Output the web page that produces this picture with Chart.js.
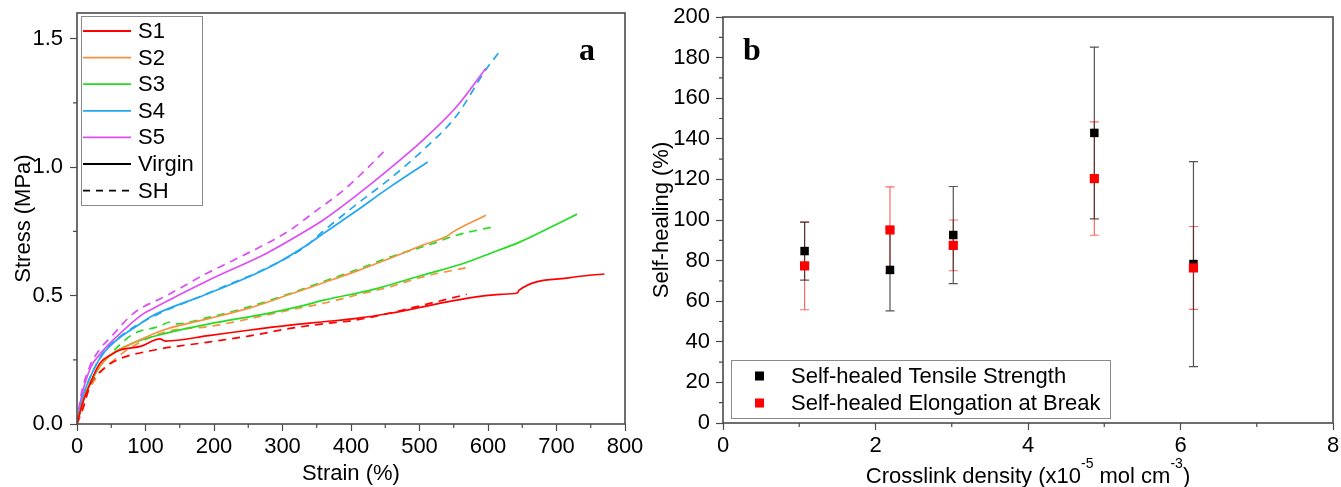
<!DOCTYPE html>
<html>
<head>
<meta charset="utf-8">
<script src="https://cdn.jsdelivr.net/npm/chart.js@4.4.1/dist/chart.umd.min.js"></script>
<style>
  html, body { margin: 0; padding: 0; background: #fff; }
  body { width: 1341px; height: 487px; position: relative; overflow: hidden; }
  .panel { position: absolute; top: 0; height: 487px; }
  #panelA { left: 0; width: 645px; }
  #panelB { left: 645px; width: 696px; }
</style>
</head>
<body>
<div class="panel" id="panelA"><canvas id="stressChart" width="645" height="487"></canvas></div>
<div class="panel" id="panelB"><canvas id="healChart" width="696" height="487"></canvas></div>
<script>
// Stress-strain curves, points are [strain %, stress MPa]
const s1Virgin = [[0,0],[8,0.08],[18,0.15],[33,0.235],[50,0.27],[63,0.288],[94,0.303],[121,0.331],[129,0.323],[192,0.344],[250,0.365],[311,0.385],[360,0.398],[408,0.411],[457,0.431],[505,0.456],[554,0.482],[618,0.505],[643,0.51],[645,0.52],[715,0.568],[745,0.578],[770,0.584]];
const s1SH = [[0,0],[10,0.07],[19,0.15],[38,0.214],[58,0.249],[107,0.285],[192,0.319],[250,0.342],[311,0.372],[360,0.39],[408,0.405],[457,0.432],[505,0.463],[569,0.505]];
const s2Virgin = [[0,0],[10,0.1],[25,0.19],[45,0.26],[70,0.3],[102,0.34],[131,0.37],[192,0.41],[250,0.45],[311,0.505],[360,0.55],[408,0.595],[457,0.645],[505,0.697],[540,0.731],[549,0.748],[597,0.813]];
const s2SH = [[0,0],[12,0.1],[28,0.18],[50,0.24],[80,0.3],[131,0.36],[192,0.379],[229,0.397],[311,0.444],[360,0.47],[408,0.502],[457,0.534],[505,0.573],[571,0.61]];
const s3Virgin = [[0,0],[10,0.1],[20,0.16],[33,0.223],[50,0.27],[82,0.315],[131,0.354],[192,0.389],[277,0.43],[333,0.463],[360,0.482],[433,0.524],[505,0.58],[564,0.625],[603,0.664],[647,0.709],[690,0.764],[730,0.817]];
const s3SH = [[0,0],[10,0.1],[25,0.19],[45,0.26],[82,0.35],[120,0.38],[136,0.397],[145,0.39],[192,0.415],[250,0.455],[311,0.508],[360,0.555],[408,0.6],[457,0.65],[520,0.703],[554,0.735],[608,0.768]];
const s4Virgin = [[0,0],[8,0.1],[24,0.21],[40,0.28],[58,0.327],[94,0.393],[107,0.417],[192,0.508],[277,0.605],[333,0.692],[360,0.742],[408,0.83],[457,0.923],[512,1.02]];
const s4SH = [[0,0],[8,0.1],[24,0.21],[40,0.285],[58,0.33],[94,0.395],[192,0.51],[277,0.607],[333,0.69],[360,0.752],[408,0.855],[457,0.955],[505,1.066],[554,1.2],[597,1.38],[615,1.443]];
const s5Virgin = [[0,0],[6,0.1],[20,0.22],[33,0.27],[58,0.34],[94,0.424],[107,0.444],[192,0.56],[277,0.665],[333,0.75],[360,0.795],[408,0.89],[457,0.995],[505,1.105],[554,1.235],[597,1.385]];
const s5SH = [[0,0],[5,0.1],[18,0.22],[33,0.29],[50,0.34],[82,0.43],[131,0.5],[192,0.59],[229,0.638],[311,0.755],[347,0.826],[389,0.91],[433,1.02],[453,1.075]];

const seriesNames = ['S1', 'S2', 'S3', 'S4', 'S5'];
const seriesColors = ['#ff0000', '#f7913f', '#22dd22', '#22a7f0', '#dc4ef5'];
const virginCurves = [s1Virgin, s2Virgin, s3Virgin, s4Virgin, s5Virgin];
const healedCurves = [s1SH, s2SH, s3SH, s4SH, s5SH];

// Self-healing efficiency against crosslink density (mean and SD, %)
const crosslinkDensity = [1.07, 2.19, 3.02, 4.87, 6.17];
const tensileHealing = [84.7, 75.4, 92.6, 142.9, 78.3];
const tensileSD = [14.3, 20.2, 23.9, 42.3, 50.5];
const elongationHealing = [77.4, 95.1, 87.5, 120.4, 76.4];
const elongationSD = [21.6, 21.2, 12.5, 27.9, 20.4];

const FONT = "'Liberation Sans', Arial, sans-serif";
const AXIS_COLOR = '#4a4a4a';
Chart.defaults.font.family = FONT;
Chart.defaults.font.size = 22;
Chart.defaults.color = '#000';

// closed box around the plot area
const frame = {
  id: 'frame',
  afterDraw(chart) {
    const {ctx, chartArea: a} = chart;
    ctx.save();
    ctx.strokeStyle = AXIS_COLOR;
    ctx.lineWidth = 1.6;
    ctx.strokeRect(a.left, a.top, a.right - a.left, a.bottom - a.top);
    ctx.restore();
  }
};

// short unlabelled ticks halfway between the labelled ones
const minorTicks = {
  id: 'minorTicks',
  afterDraw(chart, args, opts) {
    const {ctx, chartArea: a, scales: {x, y}} = chart;
    ctx.save();
    ctx.strokeStyle = AXIS_COLOR;
    ctx.lineWidth = 1.2;
    ctx.beginPath();
    for (let v = opts.xStep / 2; v < x.max; v += opts.xStep) {
      const px = x.getPixelForValue(v);
      ctx.moveTo(px, a.bottom);
      ctx.lineTo(px, a.bottom + 4);
    }
    for (let v = opts.yStep / 2; v < y.max; v += opts.yStep) {
      const py = y.getPixelForValue(v);
      ctx.moveTo(a.left, py);
      ctx.lineTo(a.left - 4, py);
    }
    ctx.stroke();
    ctx.restore();
  }
};

function panelLetter(text, dx, dy, fromRight) {
  return {
    id: 'panelLetter',
    afterDraw(chart) {
      const {ctx, chartArea: a} = chart;
      ctx.save();
      ctx.font = "bold 32px 'Liberation Serif', 'Times New Roman', serif";
      ctx.fillStyle = '#000';
      ctx.textAlign = 'center';
      ctx.textBaseline = 'alphabetic';
      ctx.fillText(text, fromRight ? a.right - dx : a.left + dx, a.top + dy);
      ctx.restore();
    }
  };
}

// legend: one coloured line per sample, then the line styles
const curveLegend = {
  id: 'curveLegend',
  afterDraw(chart) {
    const {ctx, chartArea: a} = chart;
    const items = seriesNames.map((name, i) => ({text: name, color: seriesColors[i], dash: []}));
    items.push({text: 'Virgin', color: '#000', dash: []}, {text: 'SH', color: '#000', dash: [7, 6]});
    const x0 = a.left + 4, y0 = a.top + 3, rowH = 26.6;
    ctx.save();
    ctx.fillStyle = '#fff';
    ctx.fillRect(x0, y0, 121, 189);
    ctx.strokeStyle = '#8a8a8a';
    ctx.lineWidth = 1;
    ctx.strokeRect(x0 + 0.5, y0 + 0.5, 121, 189);
    ctx.font = '22px ' + FONT;
    ctx.textBaseline = 'middle';
    items.forEach((it, i) => {
      const yy = y0 + 15 + i * rowH;
      ctx.strokeStyle = it.color;
      ctx.lineWidth = 1.8;
      ctx.setLineDash(it.dash);
      ctx.beginPath();
      ctx.moveTo(x0 + 2, yy);
      ctx.lineTo(x0 + 50, yy);
      ctx.stroke();
      ctx.setLineDash([]);
      ctx.fillStyle = '#000';
      ctx.fillText(it.text, x0 + 57, yy + 1);
    });
    ctx.restore();
  }
};

function curveDataset(points, color, dashed) {
  return {
    data: points.map(([x, y]) => ({x, y})),
    borderColor: color,
    borderWidth: 1.7,
    borderDash: dashed ? [8, 6] : [],
    pointRadius: 0,
    fill: false,
    cubicInterpolationMode: 'monotone'
  };
}

const stressDatasets = [];
virginCurves.forEach((c, i) => stressDatasets.push(curveDataset(c, seriesColors[i], false)));
healedCurves.forEach((c, i) => stressDatasets.push(curveDataset(c, seriesColors[i], true)));

const tickGrid = { drawOnChartArea: false, tickLength: 7, tickColor: AXIS_COLOR, tickWidth: 1.2 };

// fixed axis boxes so the plot areas sit at set places
function fixX(h) {
  return s => { s.height = h; s.paddingLeft = 0; s.paddingRight = 0; };
}
function fixY(w) {
  return s => { s.width = w; s.paddingTop = 0; s.paddingBottom = 0; };
}

new Chart(document.getElementById('stressChart'), {
  type: 'line',
  data: { datasets: stressDatasets },
  options: {
    responsive: false,
    animation: false,
    events: [],
    layout: { padding: { top: 13, right: 20, left: 0, bottom: 0 } },
    plugins: { legend: { display: false }, tooltip: { enabled: false },
      minorTicks: { xStep: 100, yStep: 0.5 } },
    scales: {
      x: {
        type: 'linear', min: 0, max: 800,
        border: { display: false },
        grid: tickGrid,
        ticks: { stepSize: 100, padding: 3, maxRotation: 0, autoSkip: false },
        title: { display: true, text: 'Strain (%)', padding: { top: 0, bottom: 0 } },
        afterFit: fixX(63)
      },
      y: {
        min: 0, max: 1.6,
        border: { display: false },
        grid: tickGrid,
        ticks: { stepSize: 0.5, padding: 7, includeBounds: false, callback: v => v.toFixed(1) },
        title: { display: true, text: 'Stress (MPa)', padding: { top: 11, bottom: 0 } },
        afterFit: fixY(77)
      }
    }
  },
  plugins: [frame, minorTicks, curveLegend, panelLetter('a', 38, 47, true)]
});

// vertical error bars with caps, drawn under the markers
const errorBars = {
  id: 'errorBars',
  beforeDatasetsDraw(chart) {
    const {ctx, scales: {x, y}} = chart;
    ctx.save();
    ctx.lineWidth = 1.2;
    chart.data.datasets.forEach(ds => {
      ctx.strokeStyle = ds.errorColor;
      ctx.beginPath();
      ds.data.forEach((p, j) => {
        const px = x.getPixelForValue(p.x);
        const top = y.getPixelForValue(p.y + ds.errors[j]);
        const bot = y.getPixelForValue(p.y - ds.errors[j]);
        ctx.moveTo(px, top); ctx.lineTo(px, bot);
        ctx.moveTo(px - 4.5, top); ctx.lineTo(px + 4.5, top);
        ctx.moveTo(px - 4.5, bot); ctx.lineTo(px + 4.5, bot);
      });
      ctx.stroke();
    });
    ctx.restore();
  }
};

const healLegend = {
  id: 'healLegend',
  afterDraw(chart) {
    const {ctx, chartArea: a} = chart;
    const x0 = a.left + 8, y0 = a.bottom - 63;
    ctx.save();
    ctx.fillStyle = '#fff';
    ctx.fillRect(x0, y0, 379, 58);
    ctx.strokeStyle = '#8a8a8a';
    ctx.lineWidth = 1;
    ctx.strokeRect(x0 + 0.5, y0 + 0.5, 379, 58);
    ctx.font = '22px ' + FONT;
    ctx.textBaseline = 'middle';
    chart.data.datasets.slice().sort((p, q) => p.legendRow - q.legendRow).forEach((ds, i) => {
      const yy = y0 + 16 + i * 27;
      ctx.fillStyle = ds.backgroundColor;
      ctx.fillRect(x0 + 24, yy - 4.5, 9, 9);
      ctx.fillStyle = '#000';
      ctx.fillText(ds.label, x0 + 60, yy + 1);
    });
    ctx.restore();
  }
};

// axis title with raised exponents
const densityTitle = {
  id: 'densityTitle',
  afterDraw(chart) {
    const {ctx, chartArea: a} = chart;
    const parts = [['Crosslink density (x10', false], ['-5', true], [' mol cm', false], ['-3', true], [')', false]];
    const big = '22px ' + FONT, small = '14px ' + FONT;
    ctx.save();
    let total = 0;
    parts.forEach(([t, sup]) => { ctx.font = sup ? small : big; total += ctx.measureText(t).width; });
    let x = (a.left + a.right) / 2 - total / 2;
    const base = a.bottom + 60;
    ctx.fillStyle = '#000';
    ctx.textBaseline = 'alphabetic';
    parts.forEach(([t, sup]) => {
      ctx.font = sup ? small : big;
      ctx.fillText(t, x, sup ? base - 15 : base);
      x += ctx.measureText(t).width;
    });
    ctx.restore();
  }
};

new Chart(document.getElementById('healChart'), {
  type: 'scatter',
  data: {
    datasets: [
      {
        label: 'Self-healed Elongation at Break',
        data: crosslinkDensity.map((x, i) => ({x, y: elongationHealing[i]})),
        errors: elongationSD,
        errorColor: 'rgba(255, 40, 40, 0.7)',
        legendRow: 1,
        pointStyle: 'rect', pointRadius: 6.5, borderWidth: 0,
        backgroundColor: '#ff0000'
      },
      {
        label: 'Self-healed Tensile Strength',
        data: crosslinkDensity.map((x, i) => ({x, y: tensileHealing[i]})),
        errors: tensileSD,
        errorColor: 'rgba(40, 40, 40, 0.8)',
        legendRow: 0,
        pointStyle: 'rect', pointRadius: 6, borderWidth: 0,
        backgroundColor: '#000000'
      }
    ]
  },
  options: {
    responsive: false,
    animation: false,
    events: [],
    layout: { padding: { top: 17, right: 8, left: 0, bottom: 0 } },
    plugins: { legend: { display: false }, tooltip: { enabled: false },
      minorTicks: { xStep: 2, yStep: 20 } },
    scales: {
      x: {
        type: 'linear', min: 0, max: 8,
        border: { display: false },
        grid: tickGrid,
        ticks: { stepSize: 2, padding: 3, maxRotation: 0, autoSkip: false },
        afterFit: fixX(64)
      },
      y: {
        min: 0, max: 200,
        border: { display: false },
        grid: tickGrid,
        ticks: { stepSize: 20, padding: 6 },
        title: { display: true, text: 'Self-healing (%)', padding: { top: 4, bottom: 0 } },
        afterFit: fixY(78)
      }
    }
  },
  plugins: [errorBars, frame, minorTicks, healLegend, densityTitle, panelLetter('b', 29, 43, false)]
});
</script>
</body>
</html>
